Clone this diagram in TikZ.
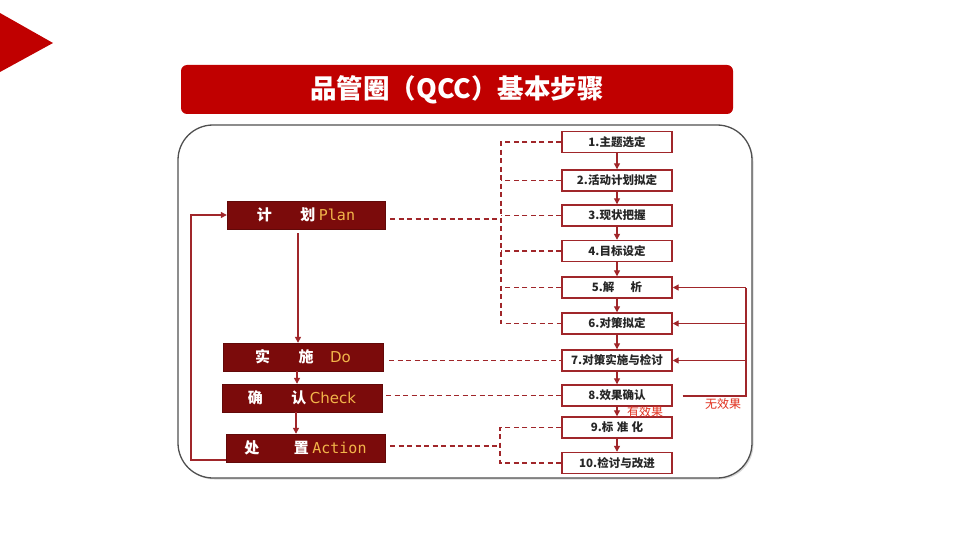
\documentclass[tikz,border=0pt]{standalone}
\usepackage{fontspec}
\setmainfont{Noto Sans CJK SC}
\newfontfamily\cjk{Noto Sans CJK SC}
\newfontfamily\monof{DejaVu Sans Mono}
\newfontfamily\sansf{DejaVu Sans}
\usetikzlibrary{arrows.meta,shadows}
\definecolor{titlered}{HTML}{C00000}
\definecolor{boxred}{HTML}{7B0B0B}
\definecolor{linered}{HTML}{A0262A}
\definecolor{gold}{HTML}{F2B54A}
\definecolor{lblred}{HTML}{E0301E}
\definecolor{framegray}{HTML}{505050}
\begin{document}
\begin{tikzpicture}[x=1pt,y=-1pt,
  phase/.style={fill=boxred, draw=boxred!80!black, minimum height=28pt, inner sep=0pt,
    font=\cjk\fontsize{15}{15}\selectfont\bfseries, text=white, drop shadow={opacity=0.25,shadow xshift=1pt,shadow yshift=-1pt}},
  stepbox/.style={draw=linered, line width=1.4pt, fill=white, minimum width=110pt,
    minimum height=21pt, inner sep=0pt, font=\cjk\fontsize{11.5}{11.5}\selectfont\bfseries, text=black!85},
  arr/.style={-{Triangle[length=6pt,width=6pt]}, draw=linered, line width=1.3pt},
  dsh/.style={draw=linered, line width=1.4pt, dash pattern=on 5pt off 3.5pt},
  lbl/.style={font=\cjk\fontsize{12}{12}\selectfont, text=lblred, inner sep=0pt},
]
\useasboundingbox (0,0) rectangle (960,540);
% corner triangle
\fill[titlered] (0,13) -- (53,43) -- (0,72) -- cycle;
% title bar
\node[fill=titlered, rounded corners=6pt, minimum width=552pt, minimum height=49pt, inner sep=0pt,
  text=white, font=\cjk\fontsize{26.5}{26.5}\selectfont\bfseries] (title) at (457,89.5) {品管圈（QCC）基本步骤};
% frame
\draw[framegray, line width=1.3pt, rounded corners=35pt, drop shadow={opacity=0.3,shadow xshift=1.5pt,shadow yshift=-1.5pt}, fill=white] (178,125) rectangle (752,478);

% left phases
\node[phase, minimum width=158pt] (plan) at (306,215) {计\hspace{1.9em}划 {\monof\mdseries\color{gold}Plan}};
\node[phase, minimum width=160pt] (do) at (303,357) {实\hspace{1.9em}施\hspace{1.1em}{\sansf\mdseries\color{gold}Do}};
\node[phase, minimum width=160pt] (check) at (302,398) {确\hspace{1.9em}认 {\sansf\mdseries\color{gold}Check}};
\node[phase, minimum width=159pt] (action) at (305.5,448) {处\hspace{2.3em}置 {\monof\mdseries\color{gold}Action}};

% right steps
\node[stepbox] (s1) at (617,142) {1.主题选定};
\node[stepbox] (s2) at (617,180.5) {2.活动计划拟定};
\node[stepbox] (s3) at (617,215.5) {3.现状把握};
\node[stepbox] (s4) at (617,251) {4.目标设定};
\node[stepbox] (s5) at (617,287.5) {5.解\hspace{1.4em}析};
\node[stepbox] (s6) at (617,323.5) {6.对策拟定};
\node[stepbox] (s7) at (617,360.5) {7.对策实施与检讨};
\node[stepbox] (s8) at (617,395.5) {8.效果确认};
\node[stepbox] (s9) at (617,427.5) {9.标\hspace{0.3em}准\hspace{0.3em}化};
\node[stepbox] (s10) at (617,463) {10.检讨与改进};

% step arrows
\foreach \a/\b in {s1/s2,s2/s3,s3/s4,s4/s5,s5/s6,s6/s7,s7/s8,s8/s9,s9/s10}
  \draw[arr] (\a) -- (\b);

% left phase arrows
\coordinate (pd) at (298,0);
\coordinate (dc) at (297,0);
\coordinate (ca) at (296,0);
\draw[arr, shorten <=4pt] (plan.south -| pd) -- (do.north -| pd);
\draw[arr] (do.south -| dc) -- (check.north -| dc);
\draw[arr] (check.south -| ca) -- (action.north -| ca);

% feedback left
\coordinate (lbb) at (191,460);
\coordinate (lbt) at (191,215);
\draw[arr] (action.west |- lbb) -- (lbb) -- (lbt) -- (plan.west);

% dashed links for plan
\coordinate (v1) at (501,142);
\coordinate (v6) at (501,323.5);
\coordinate (vp) at (501,219);
\draw[dsh] (s1.west) -- (v1) -- (v6) -- (s6.west);
\foreach \s in {s2,s3,s4,s5}
  \draw[dsh] (\s.west) -- (\s.west -| v1);
\draw[dsh, shorten <=5pt] (plan.east |- vp) -- (vp);
% do, check
\draw[dsh, shorten <=6pt] (do.east |- s7.west) -- (s7.west);
\draw[dsh, shorten <=4pt] (check.east |- s8.west) -- (s8.west);
% action
\coordinate (w9) at (500,427.5);
\coordinate (w10) at (500,463);
\coordinate (wa) at (500,446);
\draw[dsh] (s9.west) -- (w9) -- (w10) -- (s10.west);
\draw[dsh, shorten <=5pt] (action.east |- wa) -- (wa);

% feedback right
\coordinate (fb5) at (746,287.5);
\coordinate (fb8) at (746,396);
\draw[linered, line width=1.3pt, shorten <=10pt] (s8.east |- fb8) -- (fb8) -- (fb5);
\draw[arr] (fb5) -- (s5.east);
\draw[arr] (s6.east -| fb5) -- (s6.east);
\draw[arr] (s7.east -| fb5) -- (s7.east);

% labels
\node[lbl] (yes) at (645,412) {有效果};
\node[lbl] (no) at (723,404) {无效果};
\end{tikzpicture}
\end{document}
